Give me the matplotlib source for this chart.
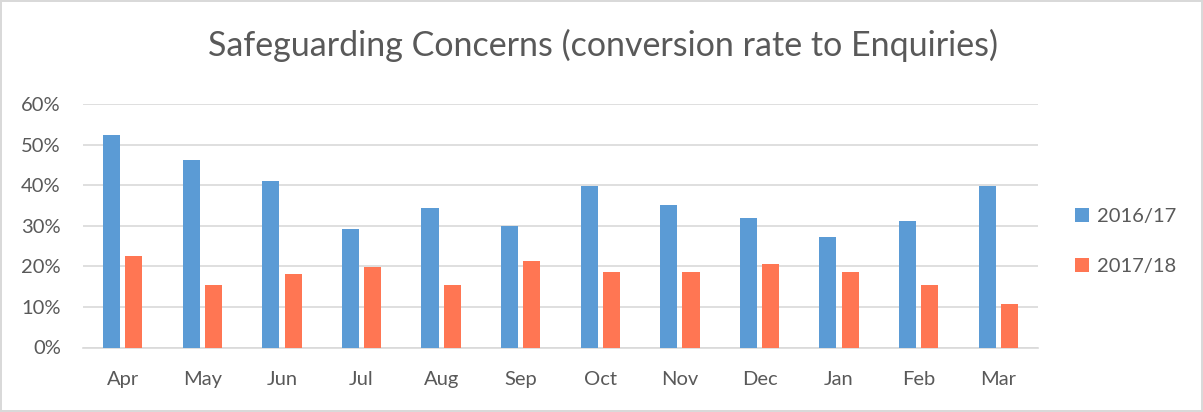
import numpy as np
import matplotlib
matplotlib.use("Agg")
import matplotlib.pyplot as plt
from matplotlib.ticker import PercentFormatter

months = ["Apr", "May", "Jun", "Jul", "Aug", "Sep", "Oct", "Nov", "Dec", "Jan", "Feb", "Mar"]
rate_1617 = [52.3, 46.3, 41.1, 29.2, 34.4, 29.9, 39.7, 35.1, 31.8, 27.2, 31.1, 39.7]
rate_1718 = [22.6, 15.3, 18.0, 19.9, 15.3, 21.2, 18.6, 18.6, 20.6, 18.6, 15.3, 10.7]
series_names = ["2016/17", "2017/18"]

plt.rcParams['font.family'] = ['Lato', 'DejaVu Sans']
text_col = "#595959"

fig = plt.figure(figsize=(12.03, 4.12), dpi=100)
fig.patch.set_edgecolor("#D9D9D9")
fig.patch.set_linewidth(1.5)
ax = fig.add_axes([83 / 1203, 1 - 347.5 / 412, (1038 - 83) / 1203, (347.5 - 104) / 412])

x = np.arange(len(months))
w = 0.215
ax.bar(x - 0.14, rate_1617, width=w, color="#5B9BD5", label=series_names[0], zorder=3)
ax.bar(x + 0.14, rate_1718, width=w, color="#FF7653", label=series_names[1], zorder=3)

ax.set_xlim(-0.5, len(months) - 0.5)
ax.set_ylim(0, 60)
ax.set_yticks(np.arange(0, 61, 10))
ax.yaxis.set_major_formatter(PercentFormatter(decimals=0))
ax.set_xticks(x)
ax.set_xticklabels(months)
ax.grid(axis="y", color="#D9D9D9", linewidth=1.2, zorder=0)
for s in ["top", "right", "left"]:
    ax.spines[s].set_visible(False)
ax.spines["bottom"].set_color("#D9D9D9")
ax.spines["bottom"].set_linewidth(1.2)
ax.tick_params(axis="both", length=0, colors=text_col, labelsize=14.5)
ax.tick_params(axis="x", pad=17)
ax.tick_params(axis="y", pad=16)

fig.text(0.501, 0.89, "Safeguarding Concerns (conversion rate to Enquiries)",
         ha="center", va="center", fontsize=24.5, color=text_col)

ax.legend(loc="center left", bbox_to_anchor=(1.02, 0.435), frameon=False,
          fontsize=14.5, labelcolor=text_col, handlelength=0.7, handleheight=0.7,
          labelspacing=1.6, handletextpad=0.4)

fig.savefig("out.png", dpi=100)
